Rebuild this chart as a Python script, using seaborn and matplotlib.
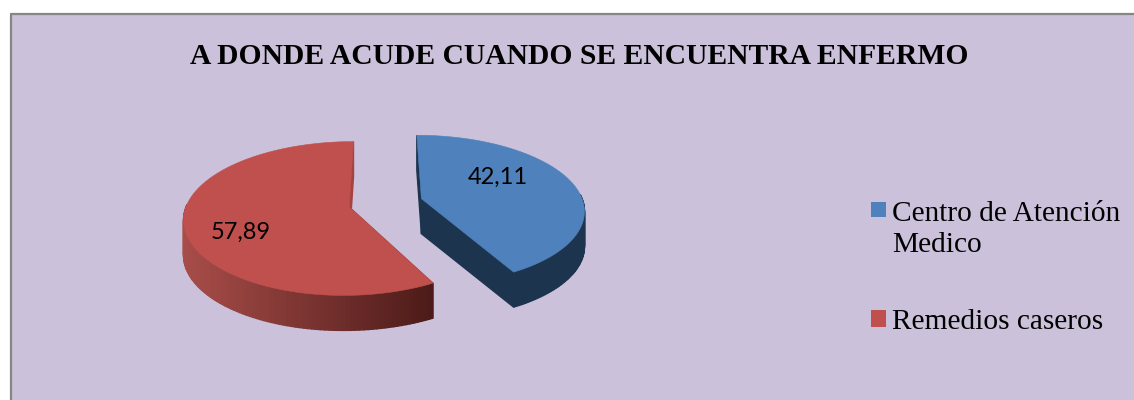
import matplotlib
matplotlib.use("Agg")
import matplotlib.pyplot as plt
import seaborn as sns
import numpy as np
from matplotlib.colors import to_rgb
from matplotlib.legend_handler import HandlerPatch
from matplotlib.patches import Patch, Rectangle

# ---------------------------------------------------
# Data
# ---------------------------------------------------

title = "A DONDE ACUDE CUANDO SE ENCUENTRA ENFERMO"
categories = ["Centro de Atención\nMedico", "Remedios caseros"]
values = [42.11, 57.89]
value_labels = ["42,11", "57,89"]

# ---------------------------------------------------
# Theme
# ---------------------------------------------------

sns.set_theme(style="white")

BLUE = "#4F81BD"
RED = "#BF504D"
BLUE_SIDE = "#1D344F"
RED_SIDE_LIGHT = "#A84D49"
RED_SIDE_DARK = "#4C1B19"
BACKGROUND = "#CBC1DA"
BORDER = "#868686"

sns.set_palette([BLUE, RED])

# view of the tilted pie, in pixels
CX, CY = 384, 203
RX, RY = 162, 74
PERSPECTIVE_X = 0.14
PERSPECTIVE_Y = 0.148
DEPTH = 35


def project(u, v, drop=0):
    return (CX + RX * u / (1 + PERSPECTIVE_X * v),
            CY - RY * v / (1 + PERSPECTIVE_Y * v) + drop)


def wedge_outline(wedge):
    angles = np.radians(np.linspace(wedge.theta1, wedge.theta2, 160))
    u = wedge.center[0] + wedge.r * np.cos(angles)
    v = wedge.center[1] + wedge.r * np.sin(angles)
    return angles, u, v


def draw_quad(ax, top, bottom, color, zorder):
    xs = [top[0][0], top[0][1], bottom[0][1], bottom[0][0]]
    ys = [top[1][0], top[1][1], bottom[1][1], bottom[1][0]]
    ax.fill(xs, ys, facecolor=color, edgecolor=color, linewidth=1.0, zorder=zorder)


def raised_square(legend, orig_handle, xdescent, ydescent, width, height, fontsize):
    # two-line label: the key sits next to its first line
    return Rectangle((0, 16.0), width, width)


fig = plt.figure(figsize=(11.34, 4.0), dpi=100, facecolor="white")
ax = fig.add_axes([0, 0, 1, 1])

wedges, _ = ax.pie(
    values,
    explode=[0.24, 0.22],
    startangle=90,
    counterclock=False,
    colors=[BLUE, RED],
)
for wedge in wedges:
    wedge.set_visible(False)

ax.set_aspect("auto")
ax.set_xlim(0, 1134)
ax.set_ylim(400, 0)
ax.axis("off")

ax.add_patch(Rectangle((10, 13), 1130, 400, facecolor=BACKGROUND, edgecolor="none", zorder=0))
ax.plot([11, 11, 1134], [400, 14, 14], color=BORDER, linewidth=1.6, zorder=1)

# ---------------------------------------------------
# Pie body: sides first, then the top faces
# ---------------------------------------------------

light = np.array(to_rgb(RED_SIDE_LIGHT))
dark = np.array(to_rgb(RED_SIDE_DARK))

for wedge, color in zip(wedges, [BLUE, RED]):
    angles, u, v = wedge_outline(wedge)
    cu, cv = wedge.center
    is_red = color == RED

    # flat cut faces
    for end in (0, -1):
        edge_u = np.array([cu, u[end]])
        edge_v = np.array([cv, v[end]])
        draw_quad(ax, project(edge_u, edge_v), project(edge_u, edge_v, DEPTH),
                  "#A5413F" if is_red else BLUE_SIDE, 3)

    # curved side, front half only
    tx, ty = project(u, v)
    bx, by = project(u, v, DEPTH)
    for i in range(len(angles) - 1):
        if np.sin(angles[i]) > 0.05:
            continue
        if is_red:
            t = np.clip((tx[i] - tx.min()) / (430 - tx.min()), 0, 1)
            strip = tuple(light + (dark - light) * t)
        else:
            strip = BLUE_SIDE
        draw_quad(ax, (tx[i:i + 2], ty[i:i + 2]), (bx[i:i + 2], by[i:i + 2]), strip, 4)

for wedge, color in zip(wedges, [BLUE, RED]):
    _, u, v = wedge_outline(wedge)
    tx, ty = project(u, v)
    apex_x, apex_y = project(*wedge.center)
    ax.fill(np.r_[apex_x, tx], np.r_[apex_y, ty], facecolor=color, edgecolor=color,
            linewidth=0.4, zorder=5)

# ---------------------------------------------------
# Text
# ---------------------------------------------------

ax.text(579, 57, title, ha="center", va="center", fontsize=21.3,
        family="Liberation Serif", weight="bold", color="black", zorder=6)

for label, (x, y) in zip(value_labels, [(498, 177), (241, 232)]):
    ax.text(x, y, label, ha="center", va="center", fontsize=17,
            family="Lato", color="black", zorder=6)

handles = [Patch(facecolor=c, edgecolor="none") for c in [BLUE, RED]]
legend = ax.legend(
    handles,
    categories,
    loc="upper left",
    bbox_to_anchor=(871 / 1134, 1 - 201 / 400),
    frameon=False,
    handlelength=0.52,
    handleheight=0.52,
    handletextpad=0.2,
    labelspacing=1.75,
    borderpad=0,
    borderaxespad=0,
    prop={"family": "Liberation Serif", "size": 21.2},
    handler_map={handles[0]: HandlerPatch(patch_func=raised_square)},
)
for text in legend.get_texts():
    text.set_color("black")
    text.set_linespacing(1.23)

fig.savefig("out.png", dpi=100, facecolor="white")
plt.close(fig)
